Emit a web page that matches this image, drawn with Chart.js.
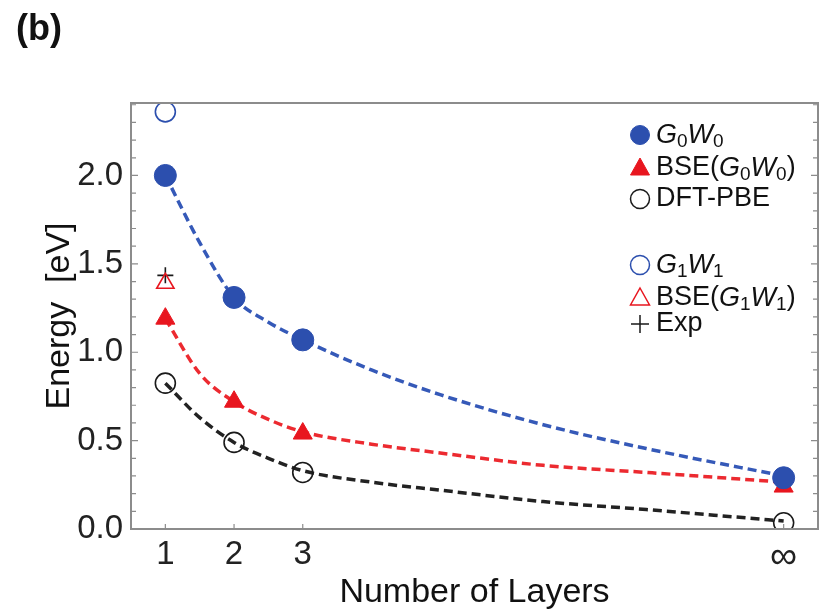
<!DOCTYPE html>
<html>
<head>
<meta charset="utf-8">
<script src="https://cdn.jsdelivr.net/npm/chart.js@4.4.0/dist/chart.umd.min.js"></script>
<style>
  html, body { margin: 0; padding: 0; background: #fff; overflow: hidden; }
  canvas { display: block; }
</style>
</head>
<body>
<canvas id="energy-canvas" width="821" height="613"></canvas>
<script>
// layer count; 10 is where the bulk (infinity) column sits on the axis
const layers = [1, 2, 3, 10];
const xTickLabels = ['1', '2', '3', '\u221e'];
const yTicks = [0, 0.5, 1.0, 1.5, 2.0];

const g0w0 = [2.00, 1.31, 1.07, 0.29];
const bseG0w0 = [1.19, 0.72, 0.54, 0.24];
const dftPbe = [0.825, 0.49, 0.32, 0.035];
const g1w1 = [2.36];
const bseG1w1 = [1.39];
const expGap = [1.435];

// dashed guide curves
const fitX = [1, 1.5, 2, 2.5, 3, 4, 5, 6.5, 8, 10];
const fitG0w0 = [2.00, 1.62, 1.31, 1.17, 1.07, 0.90, 0.76, 0.59, 0.455, 0.30];
const fitBse = [1.19, 0.88, 0.72, 0.62, 0.55, 0.48, 0.43, 0.36, 0.32, 0.265];
const fitDft = [0.825, 0.63, 0.49, 0.40, 0.33, 0.265, 0.22, 0.155, 0.11, 0.045];

const BLUE = '#2c4fae';
const RED = '#e8161f';
const BLACK = '#1a1a1a';
const FRAME = '#8c8c8c';
const FONT = "'Liberation Sans', Arial, sans-serif";

function pts(xs, ys){
  return ys.map((y, i) => ({x: xs[i], y: y}));
}

function fitLine(label, ys, color){
  return {
    type: 'line', label: label, data: pts(fitX, ys),
    borderColor: color, borderWidth: 3.5, borderDash: [9, 5],
    pointRadius: 0, cubicInterpolationMode: 'monotone',
    fill: false, order: 2
  };
}

function marker(label, ys, style, radius, color, filled){
  return {
    type: 'scatter', label: label, data: pts(layers, ys),
    pointStyle: style, pointRadius: radius, pointHoverRadius: radius,
    backgroundColor: filled ? color : 'rgba(0,0,0,0)',
    borderColor: color, borderWidth: filled ? 1 : 1.6,
    order: 0
  };
}

// legend rows: pieces of text, italic letters (i) and subscripts (s)
const legendRows = [
  {y: 135, style: 'circle', color: BLUE, filled: true, text: [['G', 'i'], ['0', 's'], ['W', 'i'], ['0', 's']]},
  {y: 168, style: 'triangle', color: RED, filled: true, text: [['BSE(', ''], ['G', 'i'], ['0', 's'], ['W', 'i'], ['0', 's'], [')', '']]},
  {y: 199, style: 'circle', color: BLACK, filled: false, text: [['DFT-PBE', '']]},
  {y: 265, style: 'circle', color: BLUE, filled: false, text: [['G', 'i'], ['1', 's'], ['W', 'i'], ['1', 's']]},
  {y: 298, style: 'triangle', color: RED, filled: false, text: [['BSE(', ''], ['G', 'i'], ['1', 's'], ['W', 'i'], ['1', 's'], [')', '']]},
  {y: 324, style: 'cross', color: BLACK, filled: false, text: [['Exp', '']]}
];

const framePlugin = {
  id: 'frame',
  afterDatasetsDraw(chart){
    const ctx = chart.ctx;
    const a = chart.chartArea;
    const y = chart.scales.y;
    const x = chart.scales.x;
    ctx.save();
    ctx.strokeStyle = FRAME;
    ctx.lineWidth = 2;
    ctx.strokeRect(a.left, a.top, a.right - a.left, a.bottom - a.top);
    // minor ticks every 0.1 on left and right
    ctx.lineWidth = 1.2;
    for(let v = 0.1; v < y.max; v += 0.1){
      const py = y.getPixelForValue(v);
      const len = Math.abs(v * 2 - Math.round(v * 2)) < 1e-6 ? 7 : 5;
      ctx.beginPath();
      ctx.moveTo(a.left, py); ctx.lineTo(a.left + len, py);
      ctx.moveTo(a.right, py); ctx.lineTo(a.right - len, py);
      ctx.stroke();
    }
    layers.forEach(function(v){
      const px = x.getPixelForValue(v);
      ctx.beginPath();
      ctx.moveTo(px, a.bottom); ctx.lineTo(px, a.bottom - 5);
      ctx.stroke();
    });
    ctx.restore();
  },
  afterDraw(chart){
    const ctx = chart.ctx;
    ctx.save();
    ctx.fillStyle = '#111';
    ctx.font = 'bold 36px ' + FONT;
    ctx.textBaseline = 'alphabetic';
    ctx.fillText('(b)', 16, 40);

    legendRows.forEach(function(row){
      const mx = 640;
      ctx.fillStyle = row.color;
      ctx.strokeStyle = row.color;
      ctx.lineWidth = row.filled ? 1 : 1.5;
      ctx.beginPath();
      if(row.style == 'circle'){
        ctx.arc(mx, row.y, 9.5, 0, Math.PI * 2);
      } else if(row.style == 'triangle'){
        ctx.moveTo(mx, row.y - 10); ctx.lineTo(mx + 9.5, row.y + 7); ctx.lineTo(mx - 9.5, row.y + 7); ctx.closePath();
      } else {
        ctx.moveTo(mx - 9, row.y); ctx.lineTo(mx + 9, row.y);
        ctx.moveTo(mx, row.y - 9); ctx.lineTo(mx, row.y + 9);
      }
      if(row.filled) ctx.fill();
      ctx.stroke();
      let tx = 656;
      ctx.fillStyle = '#111';
      ctx.textBaseline = 'middle';
      row.text.forEach(function(p){
        if(p[1] == 's'){
          ctx.font = '19px ' + FONT;
          ctx.fillText(p[0], tx, row.y + 7);
        } else {
          ctx.font = (p[1] == 'i' ? 'italic ' : '') + '27px ' + FONT;
          ctx.fillText(p[0], tx, row.y);
        }
        tx += ctx.measureText(p[0]).width;
      });
    });
    ctx.restore();
  }
};

const ctx = document.getElementById('energy-canvas');
const myChart = new Chart(ctx, {
  data: {
    datasets: [
      marker('G0W0', g0w0, 'circle', 11, BLUE, true),
      marker('BSE(G0W0)', bseG0w0, 'triangle', 11, RED, true),
      marker('DFT-PBE', dftPbe, 'circle', 10, BLACK, false),
      marker('G1W1', g1w1, 'circle', 10, BLUE, false),
      marker('BSE(G1W1)', bseG1w1, 'triangle', 10, RED, false),
      marker('Exp', expGap, 'cross', 8, BLACK, false),
      fitLine('fit G0W0', fitG0w0, '#3559b8'),
      fitLine('fit BSE', fitBse, '#ec2a30'),
      fitLine('fit DFT', fitDft, '#222222')
    ]
  },
  options: {
    responsive: false,
    animation: false,
    events: [],
    layout: {autoPadding: false, padding: {top: 103, right: 3, left: 0, bottom: 0}},
    plugins: {legend: {display: false}, tooltip: {enabled: false}},
    scales: {
      x: {
        type: 'linear', min: 0.5, max: 10.5,
        grid: {display: false, drawTicks: false}, border: {display: false},
        afterBuildTicks: function(scale){ scale.ticks = layers.map(v => ({value: v})); },
        afterFit: function(scale){
          scale.height = 84;
          scale.paddingLeft = 0;
          scale.paddingRight = 0;
        },
        ticks: {
          autoSkip: false, maxRotation: 0, padding: 6, color: '#222',
          font: function(c){
            return {family: FONT, size: (c.tick && c.tick.value == 10) ? 38 : 33};
          },
          callback: function(v){ return xTickLabels[layers.indexOf(v)]; }
        },
        title: {display: true, text: 'Number of Layers', color: '#111',
                font: {family: FONT, size: 34}, padding: {top: 0, bottom: 0}}
      },
      y: {
        type: 'linear', min: 0, max: 2.41,
        grid: {display: false, drawTicks: false}, border: {display: false},
        afterBuildTicks: function(scale){ scale.ticks = yTicks.map(v => ({value: v})); },
        afterFit: function(scale){
          scale.width = 131;
          scale.paddingTop = 0;
          scale.paddingBottom = 0;
        },
        ticks: {
          padding: 8, color: '#222',
          font: {family: FONT, size: 33},
          callback: function(v){ return v.toFixed(1); }
        },
        title: {display: true, text: 'Energy  [eV]', color: '#111',
                font: {family: FONT, size: 34}, padding: {top: 39, bottom: 0}}
      }
    }
  },
  plugins: [framePlugin]
});
</script>
</body>
</html>
